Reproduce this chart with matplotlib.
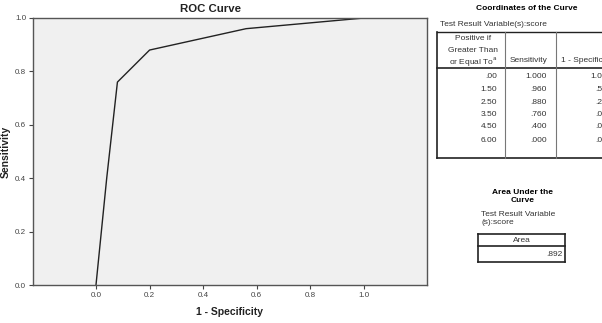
import matplotlib
matplotlib.use("Agg")
import matplotlib.pyplot as plt
from matplotlib.lines import Line2D

plt.rcParams["font.family"] = ["Liberation Sans", "DejaVu Sans"]

# ROC coordinates (SPSS output)
thresholds = [0.00, 1.50, 2.50, 3.50, 4.50, 6.00]
sensitivity = [1.000, 0.960, 0.880, 0.760, 0.400, 0.000]
one_minus_spec = [1.000, 0.560, 0.200, 0.080, 0.040, 0.000]
auc = 0.892
xticks = [0.0, 0.2, 0.4, 0.6, 0.8, 1.0]
yticks = [0.0, 0.2, 0.4, 0.6, 0.8, 1.0]

W, H = 602, 323
TXT = "#333333"


def spss(v, d):
    # SPSS drops the leading zero
    s = f"{v:.{d}f}"
    if s.startswith("0."):
        s = s[1:]
    return s


fig = plt.figure(figsize=(W / 100, H / 100), dpi=100)
fig.patch.set_facecolor("white")


def px(x, y):
    return x / W, 1 - y / H


def ftext(x, y, s, **kw):
    fx, fy = px(x, y)
    fig.text(fx, fy, s, **kw)


def fline(x0, y0, x1, y1, lw=1.0, color="#222222"):
    a, b = px(x0, y0)
    c, d = px(x1, y1)
    fig.add_artist(Line2D([a, c], [b, d], transform=fig.transFigure,
                          color=color, lw=lw))


# --- ROC plot ---
ax = fig.add_axes([33 / W, 1 - 285 / H, 394 / W, 267 / H])
ax.set_facecolor("#f0f0f0")
ax.plot(one_minus_spec, sensitivity, color="#222222", lw=1.0)
ax.set_xlim(-0.235, 1.235)
ax.set_ylim(0, 1)
ax.set_xticks(xticks)
ax.set_yticks(yticks)
ax.set_xticklabels([f"{t:.1f}" for t in xticks])
ax.set_yticklabels([f"{t:.1f}" for t in yticks])
ax.tick_params(labelsize=5.8, colors="#444444", length=3, width=0.8, pad=2)
for sp in ax.spines.values():
    sp.set_color("#555555")
    sp.set_linewidth(1.0)

ftext(211, 9, "ROC Curve", fontsize=8.2, fontweight="bold", ha="center",
      va="center", color="#222222")
ftext(230, 312, "1 - Specificity", fontsize=7.5, fontweight="bold",
      ha="center", va="center", color="#222222")
ftext(6, 152, "Sensitivity", fontsize=7.5, fontweight="bold", rotation=90,
      ha="center", va="center", color="#222222")

# --- Coordinates of the Curve table ---
ftext(527, 9, "Coordinates of the Curve", fontsize=6, fontweight="bold",
      ha="center", va="center")
ftext(440, 24, "Test Result Variable(s):score", fontsize=6, ha="left",
      va="center", color=TXT)

tl, c1, c2, tr = 437, 505, 556, 640
ttop, hbot, tbot = 32, 68, 158
fline(tl, ttop, tr, ttop)
fline(tl, hbot, tr, hbot, lw=1.2)
fline(tl, tbot, tr, tbot, lw=1.2)
fline(tl, ttop, tl, tbot, lw=1.2)
fline(c1, ttop, c1, tbot, lw=0.8, color="#777777")
fline(c2, ttop, c2, tbot, lw=0.8, color="#777777")

ftext(473, 39, "Positive if", fontsize=6, ha="center", va="center", color=TXT)
ftext(473, 50, "Greater Than", fontsize=6, ha="center", va="center", color=TXT)
ftext(473, 61, "or Equal To$^{\\mathrm{a}}$", fontsize=6, ha="center",
      va="center", color=TXT)
ftext(529, 61, "Sensitivity", fontsize=6, ha="center", va="center", color=TXT)
ftext(561, 61, "1 - Specificity", fontsize=6, ha="left", va="center", color=TXT)

row_y = [77, 89, 102, 114, 127, 140]
for yy, t, s, f in zip(row_y, thresholds, sensitivity, one_minus_spec):
    ftext(497, yy, spss(t, 2), fontsize=6, ha="right", va="center", color=TXT)
    ftext(547, yy, spss(s, 3), fontsize=6, ha="right", va="center", color=TXT)
    ftext(612, yy, spss(f, 3), fontsize=6, ha="right", va="center", color=TXT)

# --- Area Under the Curve ---
ftext(523, 192, "Area Under the", fontsize=6, fontweight="bold", ha="center", va="center")
ftext(523, 201, "Curve", fontsize=6, fontweight="bold", ha="center", va="center")
ftext(481, 215, "Test Result Variable", fontsize=6, ha="left", va="center", color=TXT)
ftext(481, 223, "(s):score", fontsize=6, ha="left", va="center", color=TXT)

bl, br, bt, bm, bb = 478, 565, 234, 246, 262
fline(bl, bt, br, bt, lw=1.2)
fline(bl, bm, br, bm, lw=1.2)
fline(bl, bb, br, bb, lw=1.2)
fline(bl, bt, bl, bb, lw=1.2)
fline(br, bt, br, bb, lw=1.2)
ftext(522, 240, "Area", fontsize=6, ha="center", va="center", color=TXT)
ftext(562, 254, spss(auc, 3), fontsize=6, ha="right", va="center", color=TXT)

fig.savefig("out.png", dpi=100)
